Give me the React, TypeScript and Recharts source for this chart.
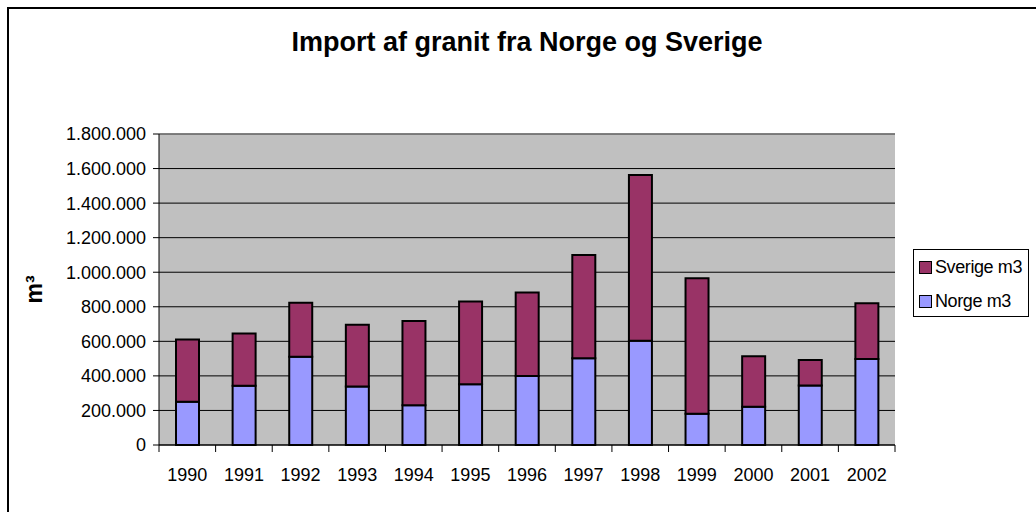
import React from 'react';
import { BarChart, Bar, XAxis, YAxis, CartesianGrid, ReferenceLine } from 'recharts';

const years = ['1990', '1991', '1992', '1993', '1994', '1995', '1996', '1997', '1998', '1999', '2000', '2001', '2002'];
const norge = [250000, 343000, 511000, 338000, 230000, 351000, 399000, 502000, 604000, 181000, 222000, 345000, 498000];
const sverige = [361000, 303000, 313000, 358000, 488000, 480000, 484000, 598000, 958000, 784000, 291000, 147000, 322000];
const yTicks = [0, 200000, 400000, 600000, 800000, 1000000, 1200000, 1400000, 1600000, 1800000];
const legendItems = [
  { label: 'Sverige m3', color: '#993366' },
  { label: 'Norge m3', color: '#9999FF' },
];

const data = years.map((y, i) => ({ year: y, norge: norge[i], sverige: sverige[i] }));

const FONT = '"Liberation Sans", Arial, sans-serif';
const fmt = (v: number) => v.toString().replace(/\B(?=(\d{3})+(?!\d))/g, '.');

const XTick = (props: any) => {
  const { x, y, payload, index } = props;
  const off = payload && payload.offset ? payload.offset : 28.3;
  const axisY = y - 23;
  return (
    <g>
      <line x1={x - off} y1={axisY} x2={x - off} y2={axisY + 7} stroke="#000" strokeWidth={1} />
      {index === years.length - 1 && (
        <line x1={x + off} y1={axisY} x2={x + off} y2={axisY + 7} stroke="#000" strokeWidth={1} />
      )}
      <text x={x} y={y} dy="0.71em" textAnchor="middle" fontSize={18} fontFamily={FONT} fill="#000">
        {payload.value}
      </text>
    </g>
  );
};

const YLabel = () => {
  const cx = 42;
  const cy = 289.5;
  return (
    <text x={cx} y={cy} transform={`rotate(-90 ${cx} ${cy})`} textAnchor="middle" fontSize={23} fontWeight="bold" fontFamily={FONT} fill="#000">
      m³
    </text>
  );
};

const LegendBox = () => (
  <div style={{ position: 'absolute', left: 913, top: 249, width: 114, height: 66, border: '1px solid #000', background: '#fff', fontFamily: FONT, fontSize: 18, color: '#000' }}>
    {legendItems.map((it, i) => (
      <div key={i} style={{ position: 'absolute', left: 5, top: 8 + i * 34, height: 18, display: 'flex', alignItems: 'center', whiteSpace: 'nowrap', letterSpacing: -0.4 }}>
        <span style={{ display: 'inline-block', width: 11, height: 11, background: it.color, border: '1.5px solid #000', marginRight: 3 }} />
        <span>{it.label}</span>
      </div>
    ))}
  </div>
);

export default function App() {
  return (
    <div style={{ position: 'absolute', left: 0, top: 0, width: 1036, height: 512, overflow: 'hidden', background: '#fff' }}>
      <div style={{ position: 'absolute', left: 7, top: 7, width: 1040, height: 520, border: '2px solid #000' }} />
      <div style={{ position: 'absolute', left: 159, width: 736, top: 29, textAlign: 'center', fontFamily: FONT, fontWeight: 'bold', fontSize: 27, lineHeight: '27px', color: '#000', whiteSpace: 'nowrap' }}>
        Import af granit fra Norge og Sverige
      </div>
      <div style={{ position: 'absolute', left: 0, top: 0 }}>
        <BarChart width={1036} height={512} data={data} margin={{ top: 134, right: 141, bottom: 37, left: 0 }} barSize={23}>
          <CartesianGrid yAxisId="left" vertical={false} stroke="#000" strokeWidth={1} fill="#C0C0C0" fillOpacity={1} />
          <XAxis dataKey="year" height={30} tick={<XTick />} tickLine={false} tickSize={7} tickMargin={16} axisLine={{ stroke: '#000', strokeWidth: 1 }} interval={0} />
          <YAxis
            yAxisId="left"
            width={159}
            domain={[0, 1800000]}
            ticks={yTicks}
            tickFormatter={fmt}
            tickSize={6}
            tickMargin={7}
            tick={{ fontSize: 18, fill: '#000', fontFamily: FONT }}
            tickLine={{ stroke: '#000' }}
            axisLine={{ stroke: '#000' }}
            interval={0}
            label={<YLabel />}
          />
          <YAxis yAxisId="right" orientation="right" width={0} domain={[0, 1800000]} tick={false} tickLine={false} axisLine={{ stroke: '#808080', strokeWidth: 1.5 }} />
          <ReferenceLine yAxisId="left" y={1800000} stroke="#808080" strokeWidth={1.5} />
          <Bar yAxisId="left" dataKey="norge" name="Norge m3" stackId="a" fill="#9999FF" stroke="#000" strokeWidth={2} isAnimationActive={false} />
          <Bar yAxisId="left" dataKey="sverige" name="Sverige m3" stackId="a" fill="#993366" stroke="#000" strokeWidth={2} isAnimationActive={false} />
        </BarChart>
      </div>
      <LegendBox />
    </div>
  );
}
